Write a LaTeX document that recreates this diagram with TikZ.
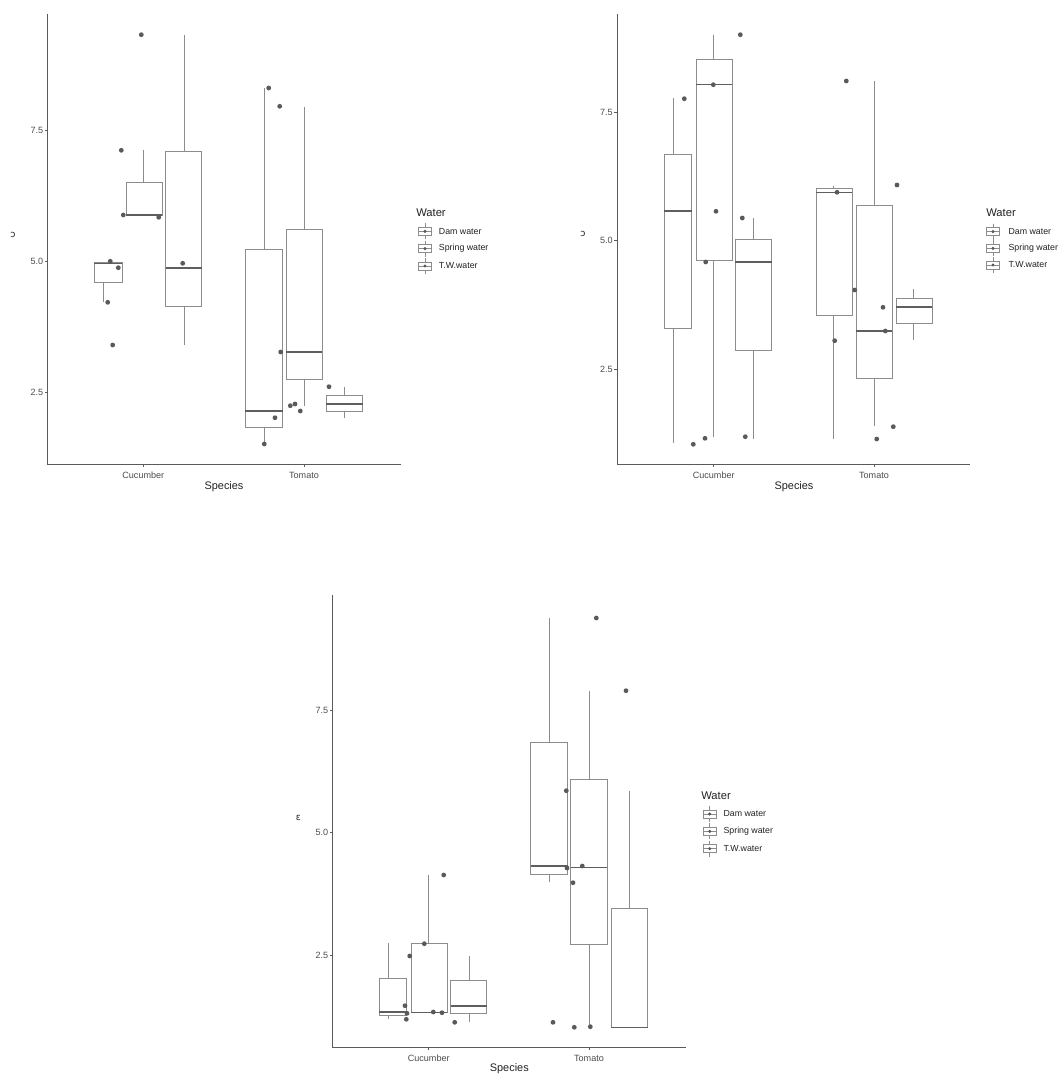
\documentclass[tikz,border=0pt]{standalone}
\usepackage{fontspec}
\setmainfont{Liberation Sans}
\newfontfamily\dejavu{DejaVu Sans}
\definecolor{axc}{HTML}{5A5A5A}
\definecolor{boxc}{HTML}{8C8C8C}
\definecolor{medc}{HTML}{5E5E5E}
\definecolor{ptc}{HTML}{5A5A5A}
\definecolor{tickc}{HTML}{4D4D4D}
\definecolor{titc}{HTML}{222222}
\tikzset{
  axisln/.style={draw=axc, line width=0.7pt},
  tickln/.style={draw=axc, line width=0.5pt},
  whisk/.style={draw=boxc, line width=0.6pt},
  boxln/.style={draw=boxc, line width=0.7pt},
  medln/.style={draw=medc, line width=1.2pt},
  ptfill/.style={fill=ptc},
  ticklab/.style={text=tickc, font=\fontsize{6.8}{8}\selectfont, inner sep=0pt},
  axtitle/.style={text=titc, font=\fontsize{8.2}{10}\selectfont, inner sep=0pt},
  legtitle/.style={text=titc, font=\fontsize{8.4}{10}\selectfont, inner sep=0pt, anchor=west},
  leglab/.style={text=titc, font=\fontsize{6.6}{8}\selectfont, inner sep=0pt, anchor=west},
  ylab/.style={text=titc, font=\dejavu\fontsize{7}{8}\selectfont, inner sep=0pt},
}
% xl, xr, whisker x, whisker top, box top, median, box bottom, whisker bottom
\newcommand{\bxp}[8]{%
  \draw[whisk] (#3,#4) -- (#3,#5);
  \draw[whisk] (#3,#7) -- (#3,#8);
  \draw[boxln] (#1,#5) rectangle (#2,#7);
  \draw[medln] (#1,#6) -- (#2,#6);}
% legend key: cx, cy
\newcommand{\lkey}[2]{%
  \draw[whisk] (#1,{#2-8}) -- (#1,{#2-4});
  \draw[whisk] (#1,{#2+4}) -- (#1,{#2+8});
  \draw[boxln, line width=0.5pt] ({#1-6.5},{#2-4}) rectangle ({#1+6.5},{#2+4});
  \draw[boxln, line width=0.5pt] ({#1-6.5},#2) -- ({#1+6.5},#2);
  \fill[ptfill] (#1,#2) circle[radius=1.3pt];}
\begin{document}
\begin{tikzpicture}[x=0.75pt,y=-0.75pt]
\useasboundingbox (0,0) rectangle (1059,1074);
\fill[white] (0,0) rectangle (1059,1074);

%================ Panel 1 ================
\draw[axisln] (47.7,14) -- (47.7,464) -- (400.7,464);
\foreach \yy/\lab [count=\i] in {130/7.5,261.3/5.0,392.7/2.5}{
  \draw[tickln] (44.7,\yy) -- (47.7,\yy);
  \node[ticklab, anchor=east] (pAy\i) at (43.5,\yy) {\lab};}
\foreach \xx/\lab [count=\i] in {143.3/Cucumber,304/Tomato}{
  \draw[tickln] (\xx,464) -- (\xx,467);
  \node[ticklab] (pAx\i) at (\xx,475) {\lab};}
\node[axtitle] (pAtitle) at (224,487) {Species};
\node[ylab] (pAylab) at (13,235) {ɔ};
\bxp{94.3}{122}{103.7}{262.7}{262.7}{263.3}{282.3}{301.7}
\bxp{126}{162.3}{143.7}{150.3}{182.3}{215}{215}{215}
\bxp{165.7}{201.7}{184}{34.7}{151.3}{268}{306}{345}
\bxp{245.3}{282.7}{264.3}{88}{249.3}{411}{427.7}{444}
\bxp{286}{322}{304}{107}{229.7}{352}{379}{405.7}
\bxp{326.3}{362.7}{344.3}{387}{395.3}{403.7}{411}{418.3}
\foreach \px/\py in {110.3/261.3,118.3/267.7,107.7/302.3,112.7/345,121.3/150.3,141.3/34.7,123.3/215,158.7/217.3,182.7/263.3,268.7/88,279.7/106.3,275/417.7,264.3/444,280.7/352,290.3/405.7,295/404,300.3/411,329/386.7}
  \fill[ptfill] (\px,\py) circle[radius=1.8pt];
\node[legtitle] (pAleg) at (416,212.3) {Water};
\lkey{425}{231.3}\lkey{425}{248.7}\lkey{425}{266}
\node[leglab] (pAl1) at (438.7,231.3) {Dam water};
\node[leglab] (pAl2) at (438.7,248.7) {Spring water};
\node[leglab] (pAl3) at (438.7,266) {T.W.water};

%================ Panel 2 ================
\draw[axisln] (617.3,14) -- (617.3,464) -- (970,464);
\foreach \yy/\lab [count=\i] in {112.7/7.5,240.7/5.0,369.3/2.5}{
  \draw[tickln] (614.3,\yy) -- (617.3,\yy);
  \node[ticklab, anchor=east] (pBy\i) at (613,\yy) {\lab};}
\foreach \xx/\lab [count=\i] in {713.7/Cucumber,874/Tomato}{
  \draw[tickln] (\xx,464) -- (\xx,467);
  \node[ticklab] (pBx\i) at (\xx,475) {\lab};}
\node[axtitle] (pBtitle) at (794,487) {Species};
\node[ylab] (pBylab) at (583,234) {ɔ};
\bxp{664}{691.7}{673.3}{98.3}{154.3}{211}{328}{443.3}
\bxp{696.3}{732}{713.7}{34.7}{59.7}{84.7}{260.3}{436.7}
\bxp{735.3}{771.7}{753.7}{218}{239.7}{261.7}{350}{438.7}
\bxp{816}{852.3}{833.7}{185.7}{188.7}{192.3}{315}{439.3}
\bxp{856}{892}{874}{81}{205.7}{330.7}{378.3}{426}
\bxp{896}{932.3}{913.7}{289}{298.3}{307}{323.3}{340}
\foreach \px/\py in {684.3/98.7,693.3/444.3,713.3/84.7,716/211.3,705.7/262,705/438.3,740.3/34.7,742.3/218,745.3/436.7,837/192.3,846.3/81,834.7/340.7,854.7/290,883/307.3,885.3/331,876.7/439,893.3/426.7,897/185}
  \fill[ptfill] (\px,\py) circle[radius=1.8pt];
\node[legtitle] (pBleg) at (986,212.7) {Water};
\lkey{993}{231.7}\lkey{993}{248.3}\lkey{993}{265}
\node[leglab] (pBl1) at (1008.3,231.7) {Dam water};
\node[leglab] (pBl2) at (1008.3,248.3) {Spring water};
\node[leglab] (pBl3) at (1008.3,265) {T.W.water};

%================ Panel 3 ================
\draw[axisln] (332.7,595) -- (332.7,1047.3) -- (685.7,1047.3);
\foreach \yy/\lab [count=\i] in {710/7.5,832.7/5.0,955/2.5}{
  \draw[tickln] (329.7,\yy) -- (332.7,\yy);
  \node[ticklab, anchor=east] (pCy\i) at (328.5,\yy) {\lab};}
\foreach \xx/\lab [count=\i] in {428.7/Cucumber,589/Tomato}{
  \draw[tickln] (\xx,1047.3) -- (\xx,1050.3);
  \node[ticklab] (pCx\i) at (\xx,1058.3) {\lab};}
\node[axtitle] (pCtitle) at (509.3,1069) {Species};
\node[ylab] (pCylab) at (298.3,818) {ɛ};
\bxp{379}{406.7}{388.3}{943}{978}{1011.7}{1015}{1019.3}
\bxp{411}{447.3}{428.7}{875}{943.3}{1012.3}{1012.3}{1012.3}
\bxp{450.7}{486.7}{469.3}{956}{980.7}{1006}{1013.7}{1021.7}
\bxp{530.7}{567.7}{549.3}{618}{742}{866}{874.7}{882}
\bxp{570.7}{607.3}{589}{691.3}{779.3}{867.3}{944.7}{1026.7}
\bxp{611.3}{647.7}{629.3}{790.7}{908.7}{1027.3}{1027.3}{1027.3}
\foreach \px/\py in {405/1005.7,407/1013.3,406.3/1019.3,409.7/956,424.3/943.7,443.7/875,433.3/1012,442/1012.7,454.7/1022.3,566.3/790.7,567/868,553/1022.3,596.3/618,582.3/866,573/882.7,574.3/1027.3,590.3/1026.7,626/690.7}
  \fill[ptfill] (\px,\py) circle[radius=1.8pt];
\node[legtitle] (pCleg) at (701,796) {Water};
\lkey{709.7}{814}\lkey{709.7}{831.3}\lkey{709.7}{848.7}
\node[leglab] (pCl1) at (723.3,814) {Dam water};
\node[leglab] (pCl2) at (723.3,831.3) {Spring water};
\node[leglab] (pCl3) at (723.3,848.7) {T.W.water};
\end{tikzpicture}
\end{document}
